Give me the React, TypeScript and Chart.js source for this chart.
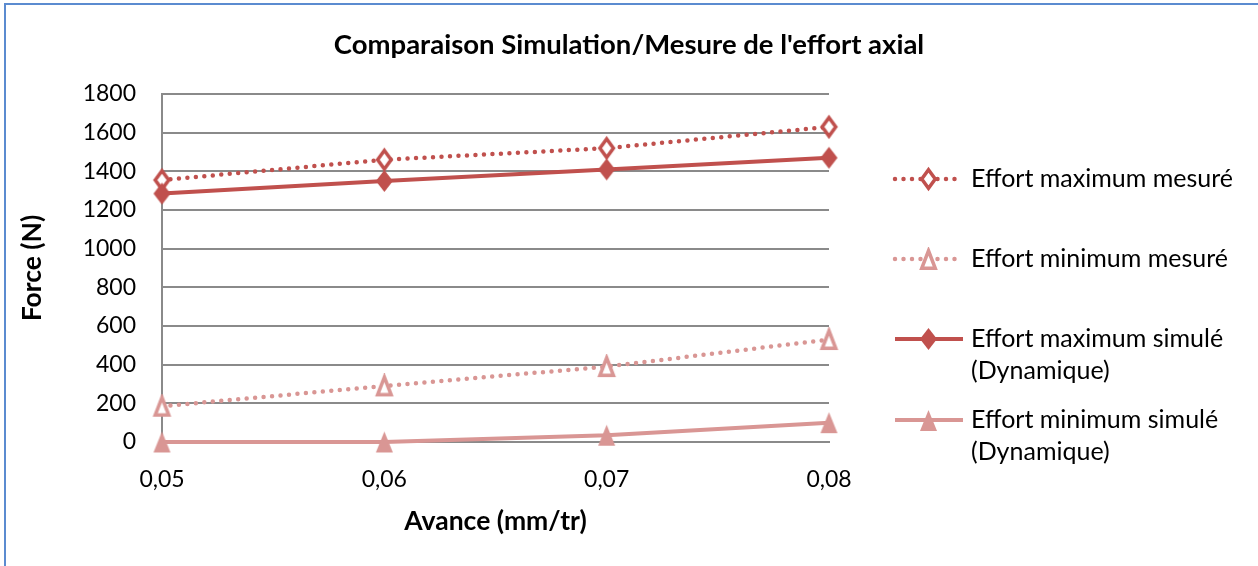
import React, { useEffect, useRef } from 'react';
import { Chart, registerables, layouts } from 'chart.js';

Chart.register(...registerables);

// ---- Data ----
const categories = ['0,05', '0,06', '0,07', '0,08'];
const maxMesure = [1355, 1460, 1520, 1630];
const minMesure = [185, 290, 390, 530];
const maxSimule = [1285, 1350, 1410, 1470];
const minSimule = [0, 0, 35, 100];
const seriesLabels = [
  ['Effort maximum mesuré'],
  ['Effort minimum mesuré'],
  ['Effort maximum simulé', '(Dynamique)'],
  ['Effort minimum simulé', '(Dynamique)'],
];
const chartTitle = "Comparaison Simulation/Mesure de l'effort axial";
const xTitle = 'Avance (mm/tr)';
const yTitle = 'Force (N)';

const RED = '#C0504D';
const PINK = '#D99694';
const GRID = '#8a8a8a';
const FONT = 'Lato, "Noto Sans", sans-serif';

function makeMarker(shape: string, fill: string, stroke: string | null, w: number, h: number, lw: number) {
  const pad = 2;
  const c = document.createElement('canvas');
  c.width = w + pad * 2;
  c.height = h + pad * 2;
  const ctx = c.getContext('2d') as CanvasRenderingContext2D;
  const inset = stroke ? lw / 2 : 0;
  const l = pad + inset, r = pad + w - inset, t = pad + inset, b = pad + h - inset;
  const cx = pad + w / 2, cy = pad + h / 2;
  ctx.beginPath();
  if (shape === 'diamond') {
    ctx.moveTo(cx, t);
    ctx.lineTo(r, cy);
    ctx.lineTo(cx, b);
    ctx.lineTo(l, cy);
  } else {
    ctx.moveTo(cx, t);
    ctx.lineTo(r, b);
    ctx.lineTo(l, b);
  }
  ctx.closePath();
  ctx.fillStyle = fill;
  ctx.fill();
  if (stroke) {
    ctx.strokeStyle = stroke;
    ctx.lineWidth = lw;
    ctx.lineJoin = 'miter';
    ctx.stroke();
  }
  return c;
}

export default function App() {
  const ref = useRef<HTMLCanvasElement | null>(null);

  useEffect(() => {
    const canvas = ref.current;
    if (!canvas) return;

    const markers = [
      makeMarker('diamond', '#ffffff', RED, 17, 22, 3.5),
      makeMarker('triangle', '#ffffff', PINK, 17, 21, 3.5),
      makeMarker('diamond', RED, null, 17, 22, 0),
      makeMarker('triangle', PINK, null, 17, 21, 0),
    ];
    const colors = [RED, PINK, RED, PINK];
    const dotted = [true, true, false, false];
    const values = [maxMesure, minMesure, maxSimule, minSimule];

    const datasets = values.map((v, i) => ({
      label: seriesLabels[i].join(' '),
      data: v,
      borderColor: colors[i],
      backgroundColor: colors[i],
      borderWidth: dotted[i] ? 4.5 : 4,
      borderDash: dotted[i] ? [0, 8.5] : [],
      borderCapStyle: dotted[i] ? 'round' : 'butt',
      pointStyle: markers[i],
      pointRadius: 10,
      tension: 0,
      clip: false,
      order: 3 - i,
    }));

    const legendPlugin = {
      id: 'sideLegend',
      beforeInit(chart: any) {
        const box: any = {
          position: 'right',
          weight: 100,
          fullSize: false,
          options: {},
          left: 0, top: 0, right: 0, bottom: 0, width: 0, height: 0,
          isHorizontal() { return false; },
          update(maxWidth: number, maxHeight: number) {
            this.width = 429;
            this.height = maxHeight;
          },
          draw() {
            const ctx = chart.ctx as CanvasRenderingContext2D;
            const x0 = this.left;
            const top = this.top;
            const rows = [85, 165, 245, 326];
            for (let i = 0; i < 4; i++) {
              const y = top + rows[i];
              ctx.save();
              ctx.strokeStyle = colors[i];
              ctx.lineWidth = dotted[i] ? 4.5 : 4;
              ctx.lineCap = dotted[i] ? 'round' : 'butt';
              ctx.setLineDash(dotted[i] ? [0, 8.5] : []);
              ctx.beginPath();
              ctx.moveTo(x0 + 66, y);
              ctx.lineTo(x0 + 134, y);
              ctx.stroke();
              ctx.restore();
              const m = markers[i];
              ctx.drawImage(m, Math.round(x0 + 99 - m.width / 2), Math.round(y - m.height / 2));
              ctx.save();
              ctx.fillStyle = '#000';
              ctx.font = `25px ${FONT}`;
              ctx.textAlign = 'left';
              ctx.textBaseline = 'middle';
              seriesLabels[i].forEach((line, k) => {
                ctx.fillText(line, x0 + 142, y + k * 32);
              });
              ctx.restore();
            }
          },
        };
        layouts.addBox(chart, box);
      },
    };

    const chart = new Chart(canvas, {
      type: 'line',
      data: { labels: categories, datasets: datasets as any },
      plugins: [legendPlugin as any],
      options: {
        responsive: false,
        animation: false,
        events: [],
        layout: { padding: 0 },
        plugins: {
          legend: { display: false },
          tooltip: { enabled: false },
          title: {
            display: true,
            text: chartTitle,
            color: '#000',
            font: { family: FONT, size: 27.5, weight: 'bold' },
            padding: { top: 28.5, bottom: 32.5 },
          },
        },
        scales: {
          x: {
            type: 'category',
            offset: false,
            afterFit(scale: any) { scale.height = 124; },
            grid: { display: false, drawTicks: false },
            border: { display: true, color: GRID, width: 2 },
            ticks: {
              color: '#000',
              font: { family: FONT, size: 23 },
              padding: 24,
              maxRotation: 0,
              autoSkip: false,
            },
            title: {
              display: true,
              text: xTitle,
              color: '#000',
              font: { family: FONT, size: 26.5, weight: 'bold' },
              padding: { top: 0, bottom: 29.1 },
            },
          },
          y: {
            min: 0,
            max: 1800,
            afterFit(scale: any) { scale.width = 162; },
            grid: { color: GRID, lineWidth: 2, drawTicks: false },
            border: { display: true, color: GRID, width: 2 },
            ticks: {
              stepSize: 200,
              color: '#000',
              font: { family: FONT, size: 23 },
              padding: 26,
              callback: (v: any) => String(v),
            },
            title: {
              display: true,
              text: yTitle,
              color: '#000',
              font: { family: FONT, size: 26.5, weight: 'bold' },
              padding: { top: 16.1, bottom: 0 },
            },
          },
        },
      } as any,
    });

    return () => {
      chart.destroy();
    };
  }, []);

  return (
    <div
      style={{
        position: 'fixed',
        left: 0,
        top: 0,
        width: 1258,
        height: 566,
        overflow: 'hidden',
        background: '#ffffff',
      }}
    >
      <div
        style={{
          position: 'absolute',
          left: 4,
          top: 3,
          width: 1400,
          height: 700,
          border: '2px solid #5B8BD0',
          boxSizing: 'border-box',
        }}
      />
      <canvas
        ref={ref}
        width={1258}
        height={566}
        style={{ position: 'absolute', left: 0, top: 0, width: 1258, height: 566 }}
      />
    </div>
  );
}
